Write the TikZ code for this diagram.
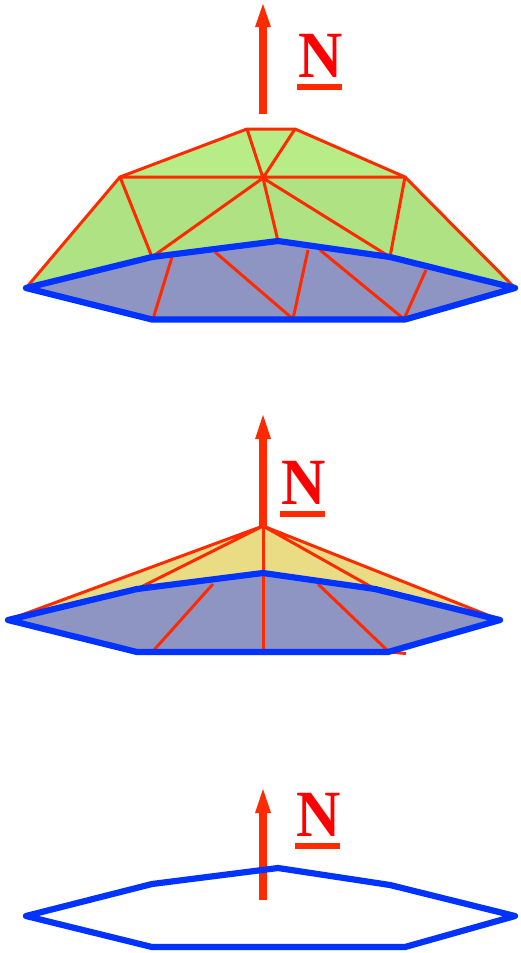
\documentclass[tikz,border=0pt]{standalone}
\usepackage{fontspec}
\setmainfont{Liberation Serif}
\definecolor{redl}{HTML}{FF2A00}
\definecolor{redt}{HTML}{FF0000}
\definecolor{bluel}{HTML}{0033FF}
\definecolor{baseb}{HTML}{8F95C2}
\definecolor{greena}{HTML}{B8EC87}
\definecolor{greenb}{HTML}{AEE282}
\definecolor{yell}{HTML}{E9DC85}
\tikzset{
  x=1pt,y=-1pt,
  edge/.style={draw=redl,line width=3pt,line join=round},
  rim/.style={draw=bluel,line width=6.2pt,line join=round,line cap=round},
  shaft/.style={draw=redl,line width=8pt},
  head/.style={fill=redl,draw=none},
  bar/.style={fill=redl,draw=none},
  letter/.style={text=redt,inner sep=0pt,anchor=base west,xscale=0.93,font=\fontsize{66}{66}\selectfont\bfseries},
}
\begin{document}
\begin{tikzpicture}
\useasboundingbox (0,0) rectangle (521,953);
% ---- top: dome
\foreach \n/\x/\y in {a/26/288,b/152/257,c/278/241,d/390/257,e/515/288,f/405/319.5,g/152/319.5,
  ta/247/129,tb/295/129,l/120/177,r/405/177,p/263/178}
  {\coordinate (\n) at (\x,\y);}
\fill[greenb] (a)--(l)--(r)--(e)--(d)--(c)--(b)--cycle;
\fill[greena] (l)--(ta)--(tb)--(r)--cycle;
\fill[baseb] (a)--(b)--(c)--(d)--(e)--(f)--(g)--cycle;
\draw[edge] (a)--(l)--(ta)--(tb)--(r)--(e);
\draw[edge] (l)--(r) (ta)--(p)--(tb) (l)--(b)--(p)--(c) (p)--(d)--(r);
\coordinate (u1) at (172,257); \coordinate (v1) at (153,319);
\coordinate (u2) at (215,252); \coordinate (v2) at (293,319);
\coordinate (u3) at (308,250);
\coordinate (u4) at (320,250); \coordinate (v4) at (404,319);
\coordinate (u5) at (426,270);
\draw[edge] (u1)--(v1) (u2)--(v2)--(u3) (u4)--(v4)--(u5);
\draw[rim] (a)--(b)--(c)--(d)--(e)--(f)--(g)--cycle;
\coordinate (s1) at (263,114); \coordinate (s2) at (263,26);
\draw[shaft] (s1)--(s2);
\fill[head] (255,27)--(263,4)--(271,27)--cycle;
\node[letter] (n1) at (298,77) {N};
\fill[bar] (297,84) rectangle (342,90);
% ---- middle: cone
\foreach \n/\x/\y in {ma/8/620,mb/137/589,mc/263/573,md/375/589,me/500/620,mf/388/652,mg/137/652,mp/263/526}
  {\coordinate (\n) at (\x,\y);}
\fill[yell] (ma)--(mp)--(me)--(md)--(mc)--(mb)--cycle;
\fill[baseb] (ma)--(mb)--(mc)--(md)--(me)--(mf)--(mg)--cycle;
\draw[edge] (ma)--(mp)--(me) (mb)--(mp)--(md);
\coordinate (mq) at (263,652);
\draw[edge] (mp)--(mq);
\coordinate (m1) at (213,584); \coordinate (m2) at (154,650);
\coordinate (m3) at (318,584); \coordinate (m4) at (388,651);
\coordinate (m5) at (406,653.5);
\draw[edge] (m1)--(m2) (m3)--(m4) (ma)--(mg) (mf)--(m5);
\coordinate (ms1) at (263,526); \coordinate (ms2) at (263,437);
\draw[shaft] (ms1)--(ms2);
\fill[head] (255,439)--(263,415)--(271,439)--cycle;
\draw[rim] (ma)--(mb)--(mc)--(md)--(me)--(mf)--(mg)--cycle;
\node[letter] (n2) at (281,504) {N};
\fill[bar] (280,511) rectangle (325,517);
% ---- bottom: outline
\foreach \n/\x/\y in {ba/26/916,bb/152/884,bc/278/868,bd/390/885,be/515/916,bf/405/947,bg/152/947}
  {\coordinate (\n) at (\x,\y);}
\coordinate (bs1) at (263,900); \coordinate (bs2) at (263,812);
\draw[shaft] (bs1)--(bs2);
\fill[head] (255,813)--(263,789)--(271,813)--cycle;
\draw[rim] (ba)--(bb)--(bc)--(bd)--(be)--(bf)--(bg)--cycle;
\node[letter] (n3) at (296,836) {N};
\fill[bar] (295,843) rectangle (340,849);
\end{tikzpicture}
\end{document}
